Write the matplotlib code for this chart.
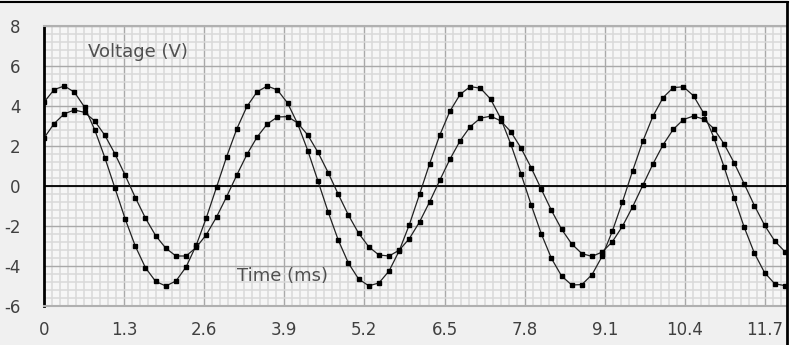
import numpy as np
import matplotlib
matplotlib.use("Agg")
from matplotlib import pyplot as plt
from matplotlib.ticker import MultipleLocator
from matplotlib.lines import Line2D
from matplotlib.patches import Rectangle

# sampled voltages, one point every sample_ms
sample_ms = 0.1647
volts_a = [4.19, 4.82, 5.00, 4.69, 3.94, 2.81, 1.41, -0.12, -1.65, -3.01,
           -4.09, -4.77, -5.00, -4.75, -4.05, -2.96, -1.58, -0.06, 1.47, 2.86,
           3.98, 4.71, 5.00, 4.80, 4.15, 3.10, 1.76, 0.24, -1.30, -2.71,
           -3.86, -4.65, -4.99, -4.85, -4.25, -3.24, -1.93, -0.42, 1.12, 2.55,
           3.74, 4.58, 4.97, 4.89, 4.35, 3.38, 2.09, 0.61, -0.94, -2.39,
           -3.62, -4.50, -4.95, -4.93, -4.43, -3.51, -2.26, -0.79, 0.76, 2.23,
           3.49, 4.42, 4.92, 4.96, 4.51, 3.64, 2.42, 0.97, -0.58, -2.07,
           -3.36, -4.33, -4.89, -4.98]
volts_b = [2.40, 3.12, 3.61, 3.80, 3.68, 3.25, 2.53, 1.60, 0.53, -0.58,
           -1.61, -2.48, -3.11, -3.50, -3.50, -3.07, -2.43, -1.55, -0.53, 0.55,
           1.58, 2.45, 3.10, 3.45, 3.47, 3.15, 2.54, 1.68, 0.67, -0.42,
           -1.46, -2.36, -3.04, -3.45, -3.50, -3.21, -2.63, -1.80, -0.79, 0.29,
           1.34, 2.26, 2.97, 3.39, 3.49, 3.26, 2.71, 1.90, 0.92, -0.16,
           -1.22, -2.16, -2.90, -3.38, -3.52, -3.30, -2.79, -2.01, -1.04, 0.03,
           1.10, 2.06, 2.83, 3.32, 3.50, 3.34, 2.87, 2.11, 1.16, 0.10,
           -0.98, -1.96, -2.75, -3.28]

x_ticks = [0, 1.3, 2.6, 3.9, 5.2, 6.5, 7.8, 9.1, 10.4, 11.7]
x_labels = ['0', '1.3', '2.6', '3.9', '5.2', '6.5', '7.8', '9.1', '10.4', '11.7']
y_ticks = [-6, -4, -2, 0, 2, 4, 6, 8]

time_ms = np.arange(len(volts_a)) * sample_ms

W, H = 795, 345
fig = plt.figure(figsize=(W / 100, H / 100), dpi=100, facecolor='#f0f0f0')
ax = fig.add_axes([44 / W, 39 / H, 742 / W, 280 / H])
ax.set_facecolor('#f6f6f6')

ax.set_xlim(0, 742 / 61.62)
ax.set_ylim(-6, 8)

ax.xaxis.set_minor_locator(MultipleLocator(0.13))
ax.yaxis.set_minor_locator(MultipleLocator(0.4))
ax.set_xticks(x_ticks)
ax.set_xticklabels(x_labels)
ax.set_yticks(y_ticks)
ax.set_yticklabels([str(v) for v in y_ticks])
ax.tick_params(which='both', length=0)
ax.tick_params(axis='x', pad=11, labelsize=12, labelcolor='#404040')
ax.tick_params(axis='y', pad=17, labelsize=12, labelcolor='#404040')

ax.set_axisbelow(True)
ax.grid(which='minor', color='#d9d9d9', linewidth=1.1)
ax.grid(which='major', color='#a9a9a9', linewidth=1.0)

for side in ['top', 'bottom']:
    ax.spines[side].set_color('#b0b0b0')
    ax.spines[side].set_linewidth(1.5)
ax.spines['right'].set_visible(False)
ax.spines['left'].set_color('black')
ax.spines['left'].set_linewidth(2)

ax.axhline(0, color='black', linewidth=1.3, zorder=2)

for v in (volts_a, volts_b):
    ax.plot(time_ms, v, color='#222222', linewidth=0.9, marker='s',
            markersize=3.5, markerfacecolor='black', markeredgecolor='black',
            zorder=3)

ax.text(0.71, 6.7, 'Voltage (V)', fontsize=13, color='#505050', va='center', ha='left')
ax.text(3.13, -4.5, 'Time (ms)', fontsize=13, color='#505050', va='center', ha='left')

# outer panel frame (top and right edges)
fig.patches.append(Rectangle((788 / W, 0), 7 / W, 1, transform=fig.transFigure,
                             facecolor='white', edgecolor='none', zorder=5))
fig.lines.append(Line2D([0, 788 / W], [1 - 2 / H, 1 - 2 / H], transform=fig.transFigure,
                        color='black', linewidth=1.5, zorder=6))
fig.lines.append(Line2D([787 / W, 787 / W], [0, 1 - 2 / H], transform=fig.transFigure,
                        color='black', linewidth=2, zorder=6))

fig.savefig('out.png', dpi=100, facecolor=fig.get_facecolor())
